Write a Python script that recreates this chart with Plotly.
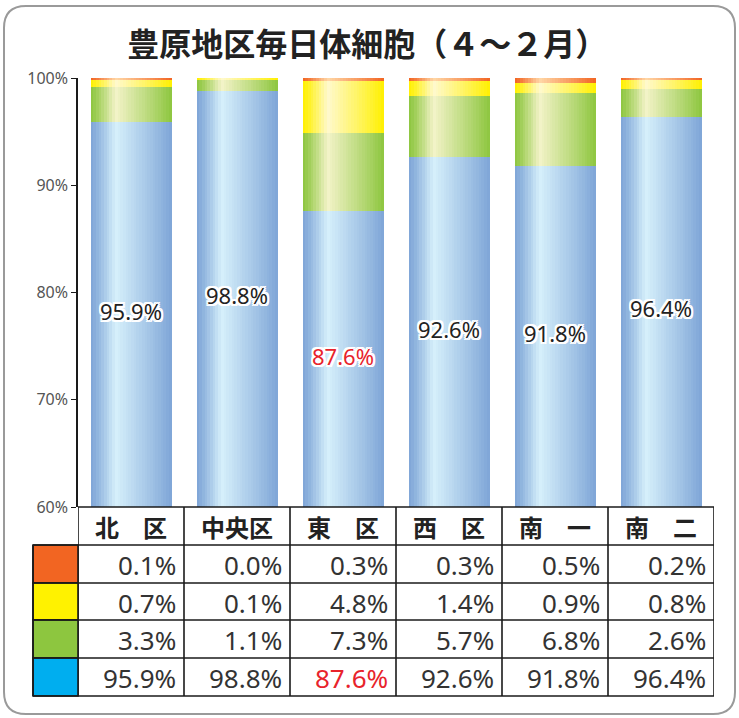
import plotly.graph_objects as go

# ---------------- data ----------------
categories = ["北　区", "中央区", "東　区", "西　区", "南　一", "南　二"]
blue_vals = [95.9, 98.8, 87.6, 92.6, 91.8, 96.4]
green_vals = [3.3, 1.1, 7.3, 5.7, 6.8, 2.6]
yellow_vals = [0.7, 0.1, 4.8, 1.4, 0.9, 0.8]
orange_vals = [0.1, 0.0, 0.3, 0.3, 0.5, 0.2]
title_text = "豊原地区毎日体細胞（４～２月）"
y_ticks = [60, 70, 80, 90, 100]
y_tick_labels = ["60%", "70%", "80%", "90%", "100%"]

# ---------------- style ----------------
W, H = 739, 718
ML, MR, MT, MB = 78, 25, 78, 211
PW, PH = W - ML - MR, H - MT - MB
YMIN, YMAX = 60, 100
BAR_W = 0.764
N_STRIPS = 30
PEAK = 0.31

series = [
    # (values, edge rgb, highlight rgb, legend colour)
    (blue_vals, (126, 165, 215), (214, 240, 251), "#00aeef"),
    (green_vals, (141, 198, 63), (243, 243, 200), "#8dc63f"),
    (yellow_vals, (255, 240, 0), (255, 249, 205), "#fff200"),
    (orange_vals, (242, 101, 34), (255, 214, 165), "#f26522"),
]


def px2x(px):
    return (px - ML) / PW


def px2y(py):
    return (H - MB - py) / PH


def mix(c1, c2, f):
    return "rgb(%d,%d,%d)" % tuple(round(a + (b - a) * f) for a, b in zip(c1, c2))


def light(t):
    if t < PEAK:
        return (t / PEAK) ** 1.2
    return ((1 - t) / (1 - PEAK)) ** 0.95


fig = go.Figure()

n = len(categories)
bases = [0.0] * n
sw = BAR_W / N_STRIPS
for vals, edge, hi, _ in series:
    for k in range(N_STRIPS):
        t = (k + 0.5) / N_STRIPS
        fig.add_trace(go.Bar(
            x=categories, y=vals, base=bases,
            width=sw * 1.15, offset=-BAR_W / 2 + k * sw,
            marker=dict(color=mix(edge, hi, light(t)), line=dict(width=0)),
            hoverinfo="skip", showlegend=False,
        ))
    bases = [b + v for b, v in zip(bases, vals)]

# labels inside blue bars
lab_colors = ["#e8232b" if v < 90 else "#222222" for v in blue_vals]
shadow = ", ".join("%dpx %dpx 0 white" % (dx, dy) for dx, dy in
                   [(2, 0), (-2, 0), (0, 2), (0, -2), (2, 2), (-2, -2), (2, -2), (-2, 2)])
fig.add_trace(go.Scatter(
    x=categories, y=[(YMIN + v) / 2 for v in blue_vals],
    mode="text", text=["%.1f%%" % v for v in blue_vals],
    textfont=dict(family="Noto Sans", size=22, color=lab_colors, shadow=shadow),
    hoverinfo="skip", showlegend=False,
))

shapes = []
annotations = []

# ---------------- table ----------------
row_px = [507, 545, 583, 620, 658, 696]
line = dict(color="#1a1a1a", width=1.6)
for i in range(n + 1):
    shapes.append(dict(type="line", xref="x", yref="paper",
                       x0=i - 0.5, x1=i - 0.5, y0=px2y(row_px[0]), y1=px2y(row_px[-1]), line=line))
shapes.append(dict(type="line", xref="paper", yref="paper",
                   x0=px2x(33), x1=px2x(33), y0=px2y(row_px[1]), y1=px2y(row_px[-1]), line=line))
shapes.append(dict(type="line", xref="paper", yref="paper",
                   x0=0, x1=1, y0=px2y(row_px[0]), y1=px2y(row_px[0]), line=line))
for r in row_px[1:]:
    shapes.append(dict(type="line", xref="paper", yref="paper",
                       x0=px2x(33), x1=1, y0=px2y(r), y1=px2y(r), line=line))

for i, c in enumerate(categories):
    annotations.append(dict(x=i, y=px2y((row_px[0] + row_px[1]) / 2), xref="x", yref="paper",
                            text="<b>%s</b>" % c, showarrow=False,
                            xanchor="center", yanchor="middle",
                            font=dict(family="Noto Sans CJK JP", size=24, color="#222222")))

table_rows = [series[3], series[2], series[1], series[0]]
for r, (vals, _, _, legc) in enumerate(table_rows):
    y0p, y1p = row_px[r + 1], row_px[r + 2]
    shapes.append(dict(type="rect", xref="paper", yref="paper",
                       x0=px2x(33), x1=0, y0=px2y(y1p), y1=px2y(y0p),
                       fillcolor=legc, line=line, layer="below"))
    for i, v in enumerate(vals):
        col = "#e8232b" if (vals is blue_vals and v < 90) else "#333333"
        annotations.append(dict(x=i + 0.5, y=px2y((y0p + y1p) / 2 + 1), xref="x", yref="paper",
                                text="%.1f%%" % v, showarrow=False,
                                xanchor="right", yanchor="middle", xshift=-6,
                                font=dict(family="Noto Sans", size=26, color=col)))

# rounded outer border
L, T, R, B, rad = 4, 6, 735, 714, 22
path = ("M {a},{b} L {c},{b} Q {R},{b} {R},{d} L {R},{e} Q {R},{B} {c},{B} "
        "L {a},{B} Q {L},{B} {L},{e} L {L},{d} Q {L},{b} {a},{b} Z").format(
    a=px2x(L + rad), b=px2y(T), c=px2x(R - rad), d=px2y(T + rad), e=px2y(B - rad),
    R=px2x(R), B=px2y(B), L=px2x(L))
shapes.append(dict(type="path", xref="paper", yref="paper", path=path,
                   line=dict(color="#9a9a9a", width=2)))

fig.update_layout(
    width=W, height=H,
    margin=dict(l=ML, r=MR, t=MT, b=MB),
    paper_bgcolor="white", plot_bgcolor="white",
    barmode="overlay", bargap=0,
    title=dict(text="<b>%s</b>" % title_text, x=0.497, xanchor="center",
               y=1 - 45 / H, yanchor="middle",
               font=dict(family="Noto Sans CJK JP", size=32, color="#222222")),
    xaxis=dict(type="category", range=[-0.5, n - 0.5], showticklabels=False,
               showgrid=False, zeroline=False, showline=False, ticks=""),
    yaxis=dict(range=[YMIN, YMAX], tickvals=y_ticks, ticktext=y_tick_labels,
               showgrid=False, zeroline=False, showline=True, linecolor="#1a1a1a", linewidth=1.5,
               ticks="outside", ticklen=5, tickcolor="#1a1a1a", tickwidth=1.2,
               tickfont=dict(family="Noto Sans", size=16, color="#555555")),
    shapes=shapes, annotations=annotations,
    showlegend=False,
)

fig.write_html("out.html", config={"displayModeBar": False},
               post_script="document.body.style.margin='0';")
